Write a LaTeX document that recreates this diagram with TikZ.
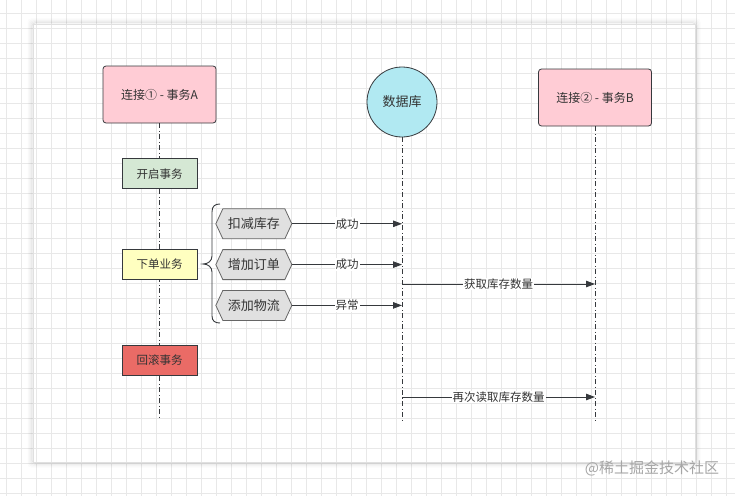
\documentclass[tikz,border=0pt]{standalone}
\usepackage{fontspec}
\setmainfont{Noto Sans CJK SC}
\usetikzlibrary{shapes,arrows.meta,positioning}
\definecolor{lineC}{HTML}{36393D}
\definecolor{textC}{HTML}{333333}
\definecolor{gridC}{HTML}{E8E8E8}
\definecolor{pinkC}{HTML}{FFCCD5}
\definecolor{dbC}{HTML}{B1E9F2}
\definecolor{greenC}{HTML}{D5E8D4}
\definecolor{yellowC}{HTML}{FFFFC0}
\definecolor{redC}{HTML}{EA6B66}
\definecolor{greyC}{HTML}{E0E0E0}
\tikzstyle{Conn} = [draw=lineC, line width=0.8pt, fill=pinkC, rounded corners=3pt, minimum width=113pt, minimum height=57pt, text=textC, font=\fontsize{12}{14}\selectfont]
\tikzstyle{DB}   = [draw=lineC, line width=0.8pt, fill=dbC, circle, minimum size=70pt, text=textC, font=\fontsize{13}{15}\selectfont]
\tikzstyle{Act}  = [draw=lineC, line width=0.8pt, rectangle, minimum width=75pt, minimum height=30pt, text=textC, font=\fontsize{11.5}{13}\selectfont]
\tikzstyle{Task} = [draw=black!60, line width=0.8pt, fill=greyC, signal, signal to=west and east, signal pointer angle=130, minimum width=76pt, minimum height=30pt, inner xsep=2pt, text=textC, font=\fontsize{13}{15}\selectfont]
\tikzstyle{Life} = [draw=lineC, line width=0.9pt, dash pattern=on 5pt off 2.5pt on 1pt off 2.5pt]
\tikzstyle{Msg}  = [draw=lineC, line width=0.9pt, -{Triangle[length=9pt,width=6.5pt]}]
\tikzstyle{Lbl}  = [fill=white, inner sep=1pt, text=textC, font=\fontsize{11.5}{13}\selectfont]

\begin{document}
\begin{tikzpicture}[x=1pt, y=-1pt]
    \useasboundingbox (0,0) rectangle (735,495);
    % background grid and page
    \fill[white] (0,0) rectangle (735,495);
    \draw[gridC, line width=0.8pt, shift={(6.7,13.5)}] (-15,-15) grid[step=15pt] (735,495);
    \foreach \i/\o in {1/0.10,2/0.07,3/0.05,4/0.03,5/0.015}
        \draw[black, opacity=\o, line width=1pt, rounded corners=3pt] (33-\i,24-\i) rectangle (695+\i,462+\i);
    \draw[black!12, line width=0.6pt] (33,24) rectangle (695,462);

    % heads
    \node[Conn] (connA) at (159.5,94.5) {连接① - 事务A};
    \node[DB]   (db)    at (402,102)    {数据库};
    \node[Conn] (connB) at (595,97.5)   {连接② - 事务B};

    % lifelines
    \coordinate (endA) at (159.5,420);
    \coordinate (endD) at (402,421);
    \coordinate (endB) at (595,422);
    \draw[Life] (connA) -- (endA);
    \draw[Life] (db)    -- (endD);
    \draw[Life] (connB) -- (endB);

    % transaction A
    \node[Act, fill=greenC]  (begin)    [below=35pt of connA] {开启事务};
    \node[Act, fill=yellowC] (order)    [below=60pt of begin] {下单业务};
    \node[Act, fill=redC]    (rollback) [below=65pt of order] {回滚事务};

    \node[Task] (t_order)  [right=18pt of order]   {增加订单};
    \node[Task] (t_stock)  [above=10pt of t_order] {扣减库存};
    \node[Task] (t_ship)   [below=10pt of t_order] {添加物流};

    % brace
    \draw[lineC, line width=0.9pt] (220,204) .. controls (215,204) and (212,206) .. (212,212) -- (212,256)
        .. controls (212,261) and (208,264) .. (203,264) .. controls (208,264) and (212,267) .. (212,272)
        -- (212,316) .. controls (212,321) and (215,323) .. (220,323);

    % messages
    \draw[Msg] (t_stock.east) -- (t_stock.east -| endD) node[Lbl, midway] {成功};
    \draw[Msg] (t_order.east) -- (t_order.east -| endD) node[Lbl, midway] {成功};
    \draw[Msg] (t_ship.east)  -- (t_ship.east -| endD)  node[Lbl, midway] {异常};
    \coordinate (q1) at (402,284);
    \coordinate (q2) at (402,397);
    \draw[Msg] (q1) -- (q1 -| endB) node[Lbl, midway] {获取库存数量};
    \draw[Msg] (q2) -- (q2 -| endB) node[Lbl, midway] {再次读取库存数量};

    % watermark
    \node[text=black!35, font=\fontsize{15}{17}\selectfont] (mark) at (652,468) {@稀土掘金技术社区};
\end{tikzpicture}
\end{document}
